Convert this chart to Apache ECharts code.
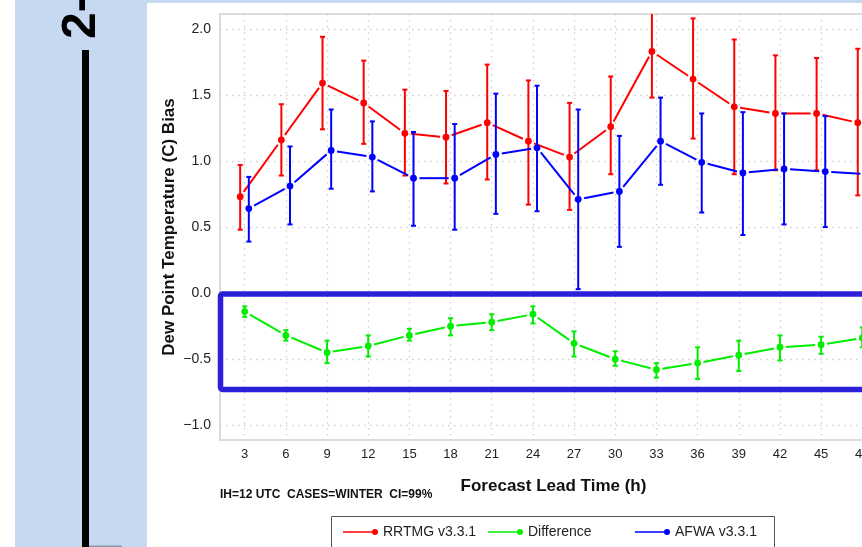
<!DOCTYPE html>
<html>
<head>
<meta charset="utf-8">
<script src="https://cdn.jsdelivr.net/npm/echarts@6/dist/echarts.min.js"></script>
<style>
  html, body { margin: 0; padding: 0; background: #fff; overflow: hidden; }
  #chart { width: 887px; height: 547px; }
</style>
</head>
<body>
<div id="chart"></div>
<script>
var leadTimes = [3, 6, 9, 12, 15, 18, 21, 24, 27, 30, 33, 36, 39, 42, 45, 48];

var rrtmgMean  = [0.73, 1.16, 1.59, 1.44, 1.21, 1.18, 1.29, 1.15, 1.03, 1.26, 1.83, 1.62, 1.41, 1.36, 1.36, 1.29];
var rrtmgLower = [0.48, 0.89, 1.24, 1.13, 0.89, 0.83, 0.86, 0.67, 0.63, 0.90, 1.48, 1.17, 0.90, 0.93, 0.93, 0.74];
var rrtmgUpper = [0.97, 1.43, 1.94, 1.76, 1.54, 1.53, 1.73, 1.61, 1.44, 1.64, 2.18, 2.08, 1.92, 1.80, 1.78, 1.85];

var diffMean  = [-0.14, -0.32, -0.45, -0.40, -0.32, -0.25, -0.22, -0.16, -0.38, -0.50, -0.58, -0.53, -0.47, -0.41, -0.39, -0.34];
var diffLower = [-0.18, -0.36, -0.53, -0.48, -0.36, -0.32, -0.28, -0.23, -0.48, -0.55, -0.64, -0.65, -0.59, -0.51, -0.46, -0.41];
var diffUpper = [-0.10, -0.28, -0.36, -0.32, -0.27, -0.19, -0.16, -0.10, -0.29, -0.44, -0.53, -0.41, -0.36, -0.32, -0.33, -0.26];

var afwaMean  = [0.64, 0.81, 1.08, 1.03, 0.87, 0.87, 1.05, 1.10, 0.71, 0.77, 1.15, 0.99, 0.91, 0.94, 0.92, 0.90];
var afwaLower = [0.39, 0.52, 0.79, 0.77, 0.51, 0.48, 0.60, 0.62, 0.03, 0.35, 0.82, 0.61, 0.44, 0.52, 0.50, 0.46];
var afwaUpper = [0.88, 1.11, 1.39, 1.30, 1.22, 1.28, 1.51, 1.57, 1.39, 1.19, 1.48, 1.36, 1.37, 1.36, 1.34, 1.33];

var xTicks = [3, 6, 9, 12, 15, 18, 21, 24, 27, 30, 33, 36, 39, 42, 45, 48];
var yTicks = [-1, -0.5, 0, 0.5, 1, 1.5, 2];

var seriesNames = ['RRTMG v3.3.1', 'Difference', 'AFWA v3.3.1'];

var FONT = '"Liberation Sans", Arial, Helvetica, sans-serif';
var GAP = 6;
var ICON = 'path://M0,2.3L32,2.3L32,3.7L0,3.7Z M35,3A3,3,0,1,1,29,3A3,3,0,1,1,35,3Z';

// each item: [x, mean, lower, upper, nextX, nextMean]; dodge shifts the group sideways
function buildItems(mean, lower, upper, dodge) {
  return leadTimes.map(function (t, i) {
    var last = i === leadTimes.length - 1;
    return [t + dodge, mean[i], lower[i], upper[i],
      last ? null : leadTimes[i + 1] + dodge, last ? null : mean[i + 1]];
  });
}

function makeRenderer(color) {
  return function (params, api) {
    var x = api.value(0);
    var p = api.coord([x, api.value(1)]);
    var lo = api.coord([x, api.value(2)]);
    var hi = api.coord([x, api.value(3)]);
    var bar = { stroke: color, lineWidth: 2 };
    var children = [
      { type: 'line', shape: { x1: p[0], y1: lo[1], x2: p[0], y2: hi[1] }, style: bar },
      { type: 'line', shape: { x1: p[0] - 2.5, y1: lo[1], x2: p[0] + 2.5, y2: lo[1] }, style: bar },
      { type: 'line', shape: { x1: p[0] - 2.5, y1: hi[1], x2: p[0] + 2.5, y2: hi[1] }, style: bar },
      { type: 'circle', shape: { cx: p[0], cy: p[1], r: 3.4 }, style: { fill: color } }
    ];
    var nx = api.value(4);
    if (nx != null && !isNaN(nx)) {
      var q = api.coord([nx, api.value(5)]);
      var dx = q[0] - p[0], dy = q[1] - p[1];
      var len = Math.sqrt(dx * dx + dy * dy);
      if (len > 2 * GAP) {
        children.push({
          type: 'line',
          shape: {
            x1: p[0] + dx / len * GAP, y1: p[1] + dy / len * GAP,
            x2: q[0] - dx / len * GAP, y2: q[1] - dy / len * GAP
          },
          style: { stroke: color, lineWidth: 2 }
        });
      }
    }
    return { type: 'group', children: children };
  };
}

function makeSeries(name, color, mean, lower, upper, dodge) {
  return {
    name: name,
    type: 'custom',
    clip: true,
    itemStyle: { color: color },
    encode: { x: 0, y: 1 },
    renderItem: makeRenderer(color),
    data: buildItems(mean, lower, upper, dodge)
  };
}

// one legend per entry so each column sits where the original put it
function makeLegend(name, left) {
  return {
    left: left,
    top: 524,
    padding: 0,
    itemWidth: 35,
    itemHeight: 6,
    selectedMode: false,
    textStyle: { fontFamily: FONT, fontSize: 14, color: '#222', lineHeight: 16 },
    data: [{ name: name, icon: ICON }]
  };
}

var chart = echarts.init(document.getElementById('chart'), null, { renderer: 'canvas' });
chart.setOption({
  backgroundColor: '#ffffff',
  animation: false,
  textStyle: { fontFamily: FONT },
  title: {
    text: 'IH=12 UTC  CASES=WINTER  CI=99%',
    left: 220,
    top: 489,
    padding: 0,
    textStyle: { fontFamily: FONT, fontSize: 12, fontWeight: 'bold', color: '#111' }
  },
  grid: {
    left: 220, top: 14, right: 0, bottom: 107,
    show: true, borderColor: '#dcdcdc', borderWidth: 2, backgroundColor: 'transparent'
  },
  xAxis: {
    type: 'value',
    min: 1.2,
    max: 49.8,
    name: 'Forecast Lead Time (h)',
    nameLocation: 'middle',
    nameGap: 38,
    nameMoveOverlap: false,
    nameTextStyle: { fontFamily: FONT, fontSize: 17, fontWeight: 'bold', color: '#111' },
    axisLine: { show: false },
    axisTick: { show: false, customValues: xTicks },
    axisLabel: { customValues: xTicks, margin: 8, fontSize: 13, color: '#222', fontFamily: FONT },
    splitLine: { show: true, lineStyle: { color: '#cfcfcf', width: 1.3, type: [1.5, 4.5] } }
  },
  yAxis: {
    type: 'value',
    min: -1.112,
    max: 2.113,
    name: 'Dew Point Temperature (C) Bias',
    nameLocation: 'middle',
    nameGap: 42,
    nameMoveOverlap: false,
    nameRotate: 90,
    nameTextStyle: { fontFamily: FONT, fontSize: 17, fontWeight: 'bold', color: '#111' },
    axisLine: { show: false },
    axisTick: { show: false, customValues: yTicks },
    axisLabel: {
      customValues: yTicks, margin: 9, fontSize: 14, color: '#222', fontFamily: FONT,
      formatter: function (v) { return v.toFixed(1).replace('-', '\u2212'); }
    },
    splitLine: { show: true, lineStyle: { color: '#cfcfcf', width: 1.3, type: [1.5, 4.5] } }
  },
  legend: [
    makeLegend(seriesNames[0], 343),
    makeLegend(seriesNames[1], 488),
    makeLegend(seriesNames[2], 635)
  ],
  graphic: [
    { type: 'rect', z: -10, shape: { x: 15, y: 0, width: 132, height: 547 }, style: { fill: '#c6d9f1' } },
    { type: 'rect', z: -10, shape: { x: 15, y: 0, width: 872, height: 3 }, style: { fill: '#c6d9f1' } },
    { type: 'rect', z: -9, shape: { x: 82, y: 50, width: 7, height: 497 }, style: { fill: '#000' } },
    { type: 'rect', z: -9, shape: { x: 89, y: 545.5, width: 33, height: 1.5 }, style: { fill: '#8a97aa' } },
    {
      type: 'text', z: -8, x: 82, y: 39, rotation: Math.PI / 2,
      style: { text: '2-', font: 'bold 48px ' + FONT, fill: '#000', align: 'left', verticalAlign: 'middle' }
    },
    {
      type: 'rect', z: 50,
      shape: { x: 331.5, y: 516.5, width: 443, height: 40 },
      style: { fill: 'none', stroke: '#555', lineWidth: 1 }
    },
    {
      type: 'rect', z: 100,
      shape: { x: 220.5, y: 294, width: 700, height: 95.5, r: 2 },
      style: { fill: 'none', stroke: '#2b1fd9', lineWidth: 5.5 }
    }
  ],
  series: [
    makeSeries(seriesNames[0], '#ff0000', rrtmgMean, rrtmgLower, rrtmgUpper, -0.33),
    makeSeries(seriesNames[1], '#00ee00', diffMean, diffLower, diffUpper, 0),
    makeSeries(seriesNames[2], '#0000ff', afwaMean, afwaLower, afwaUpper, 0.3)
  ]
});
</script>
</body>
</html>
